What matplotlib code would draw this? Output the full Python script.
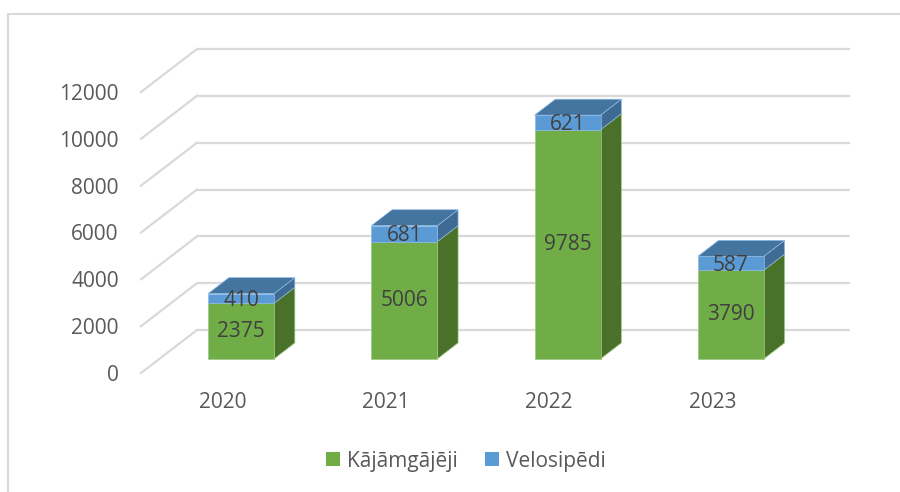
import matplotlib.pyplot as plt
from matplotlib.patches import Polygon, Rectangle, Patch

years = ['2020', '2021', '2022', '2023']
pedestrians = [2375, 5006, 9785, 3790]
cyclists = [410, 681, 621, 587]
y_ticks = [0, 2000, 4000, 6000, 8000, 10000, 12000]
series_names = ['Kājāmgājēji', 'Velosipēdi']

plt.rcParams['font.family'] = ['Open Sans', 'DejaVu Sans']

W, H = 900, 492
fig = plt.figure(figsize=(W / 100, H / 100), dpi=100)
fig.patch.set_facecolor('white')

# axes = front edge of the floor (pixel geometry)
left, right, bottom, top = 141, 794, 373, 92
ax = fig.add_axes([left / W, (H - bottom) / H, (right - left) / W, (bottom - top) / H])
ax.set_xlim(-0.5, len(years) - 0.5)
ax.set_ylim(0, 12000)
ax.set_facecolor('none')

# oblique depth expressed in data units
px_x = (right - left) / len(years)
px_y = (bottom - top) / 12000
dx = 56 / px_x
dy = 43 / px_y
bw = 66 / px_x
s_front, s_back = 0.33, 0.70

grid_c = '#d9d9d9'
for v in y_ticks:
    ax.plot([-0.5 + dx, len(years) - 0.5 + dx], [v + dy, v + dy], color=grid_c, lw=1.6,
            clip_on=False, zorder=1, solid_capstyle='butt')
    ax.plot([-0.5, -0.5 + dx], [v, v + dy], color=grid_c, lw=1.6, clip_on=False, zorder=1)


def box(xc, y0, y1, front, side, topc, edge, draw_top):
    fx0 = xc - bw / 2 + s_front * dx
    fx1 = xc + bw / 2 + s_front * dx
    fy0 = y0 + s_front * dy
    fy1 = y1 + s_front * dy
    ox = (s_back - s_front) * dx
    oy = (s_back - s_front) * dy
    side_poly = [(fx1, fy0), (fx1, fy1), (fx1 + ox, fy1 + oy), (fx1 + ox, fy0 + oy)]
    ax.add_patch(Polygon(side_poly, closed=True, facecolor=side, edgecolor=edge,
                         lw=0.5, clip_on=False, zorder=3))
    ax.add_patch(Polygon([(fx0, fy0), (fx1, fy0), (fx1, fy1), (fx0, fy1)], closed=True,
                         facecolor=front, edgecolor=edge, lw=0.5, clip_on=False, zorder=3))
    if draw_top:
        top_poly = [(fx0, fy1), (fx1, fy1), (fx1 + ox, fy1 + oy), (fx0 + ox, fy1 + oy)]
        ax.add_patch(Polygon(top_poly, closed=True, facecolor=topc, edgecolor=edge,
                             lw=0.5, clip_on=False, zorder=3))
    return (fx0 + fx1) / 2, (fy0 + fy1) / 2


for i, (p, c) in enumerate(zip(pedestrians, cyclists)):
    gx, gy = box(i, 0, p, '#70ad47', '#4a7129', '#5d8f3b', '#9cc782', False)
    bx, by = box(i, p, p + c, '#5b9bd5', '#3e6a94', '#4475a0', '#8db8e2', True)
    ax.text(gx, gy, str(p), ha='center', va='center', fontsize=15, color='#404040', zorder=5)
    ax.text(bx, by - 80, str(c), ha='center', va='center', fontsize=15, color='#404040', zorder=5)

ax.set_xticks(range(len(years)))
ax.set_xticklabels(years)
ax.set_yticks(y_ticks)
ax.set_yticklabels([str(v) for v in y_ticks])
ax.tick_params(axis='y', length=0, pad=16, labelsize=15, colors='#595959')
ax.tick_params(axis='x', length=0, pad=14, labelsize=15, colors='#595959')
for sp in ax.spines.values():
    sp.set_visible(False)

handles = [Patch(facecolor='#70ad47'), Patch(facecolor='#5b9bd5')]
leg = fig.legend(handles, series_names, loc='center', bbox_to_anchor=(466 / W, 1 - 461 / H),
                 ncol=2, frameon=False, fontsize=15, handlelength=0.65, handleheight=0.65,
                 handletextpad=0.35, columnspacing=1.3, labelcolor='#595959')

# chart frame (only top and left edges are visible in the crop)
fig.patches.append(Rectangle((8 / W, -0.5), 2, 1.5 - 14 / H, transform=fig.transFigure,
                             fill=False, edgecolor='#d9d9d9', lw=1.5))

fig.savefig('out.png', dpi=100, facecolor='white')
